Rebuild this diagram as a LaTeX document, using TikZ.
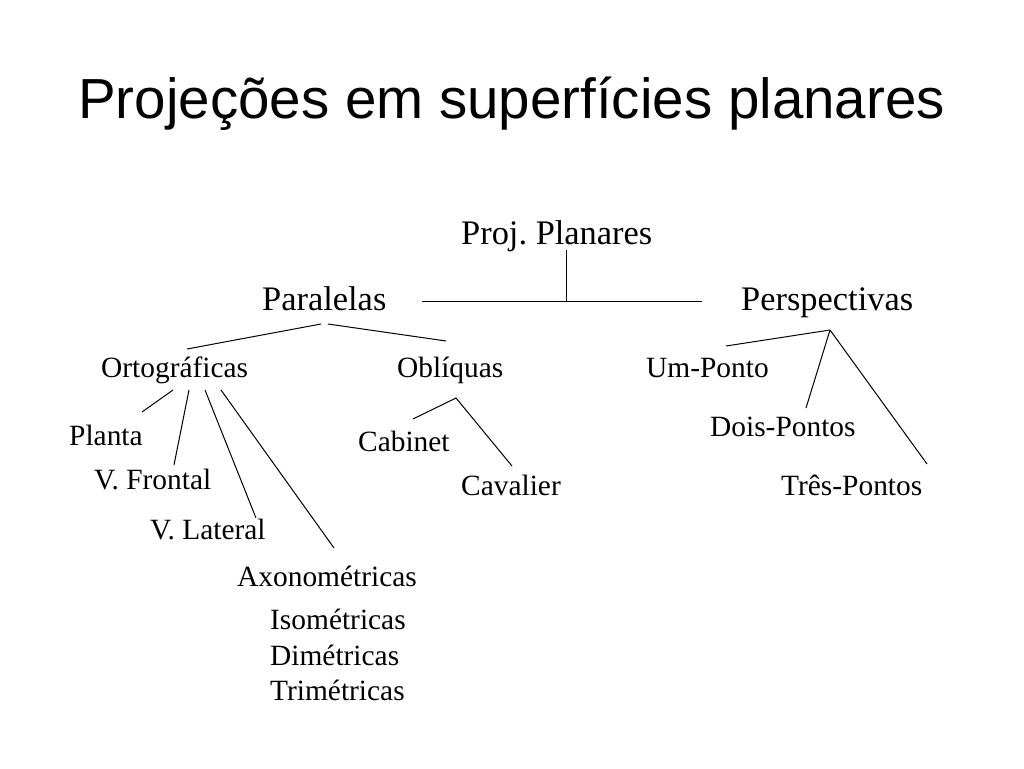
\documentclass[tikz,border=0pt]{standalone}
\usepackage{fontspec}
\setmainfont{Liberation Serif}
\newfontfamily\titlefont{Liberation Sans}
\frenchspacing
\begin{document}
\begin{tikzpicture}[x=1pt,y=-1pt,
  ttl/.style={anchor=base west,inner sep=0pt,font=\titlefont\fontsize{56.5}{60}\selectfont},
  big/.style={anchor=base west,inner sep=0pt,font=\fontsize{34.4}{38}\selectfont},
  lbl/.style={anchor=base west,inner sep=0pt,font=\fontsize{29.4}{32}\selectfont},
  ln/.style={line width=1pt,black}]
\useasboundingbox[fill=white] (0,0) rectangle (1024,768);

\node[ttl] (title) at (78,118) {Projeções em superfícies planares};

\node[big] (root) at (461,244) {Proj.\ Planares};
\node[big] (par) at (262,310) {Paralelas};
\node[big] (per) at (741,310) {Perspectivas};

\node[lbl] (orto) at (101,377) {Ortográficas};
\node[lbl] (obl) at (397,377) {Oblíquas};
\node[lbl] (um) at (646,377) {Um-Ponto};
\node[lbl] (dois) at (710,436) {Dois-Pontos};
\node[lbl] (tres) at (781,495) {Três-Pontos};

\node[lbl] (planta) at (69,445) {Planta};
\node[lbl] (vfront) at (94,489) {V.\ Frontal};
\node[lbl] (vlat) at (150,539) {V.\ Lateral};
\node[lbl] (axo) at (237,586) {Axonométricas};
\node[lbl] (iso) at (270,629) {Isométricas};
\node[lbl] (dim) at (270,665) {Dimétricas};
\node[lbl] (tri) at (270,700) {Trimétricas};

\node[lbl] (cab) at (358,451) {Cabinet};
\node[lbl] (cav) at (461,495) {Cavalier};

% coordinates
\coordinate (rootB) at (566,250);
\coordinate (hmid) at (566,301);
\coordinate (hL) at (422,301);
\coordinate (hR) at (702,301);

\coordinate (parL) at (321,324);
\coordinate (parR) at (328,324);
\coordinate (ortoT) at (187,349);
\coordinate (oblT) at (446,341);

\coordinate (o1) at (173,390);
\coordinate (o2) at (189,390);
\coordinate (o3) at (205,390);
\coordinate (o4) at (221,390);
\coordinate (plantaT) at (142,412);
\coordinate (vfrontT) at (174,465);
\coordinate (vlatT) at (256,518);
\coordinate (axoT) at (334,548);

\coordinate (oblApex) at (456,398);
\coordinate (cabT) at (413,419);
\coordinate (cavT) at (512,466);

\coordinate (perApex) at (830,330);
\coordinate (umT) at (726,346);
\coordinate (doisT) at (806,408);
\coordinate (tresT) at (927,464);

\draw[ln] (rootB) -- (hmid);
\draw[ln] (hL) -- (hR);
\draw[ln] (parL) -- (ortoT);
\draw[ln] (parR) -- (oblT);
\draw[ln] (o1) -- (plantaT);
\draw[ln] (o2) -- (vfrontT);
\draw[ln] (o3) -- (vlatT);
\draw[ln] (o4) -- (axoT);
\draw[ln] (cabT) -- (oblApex) -- (cavT);
\draw[ln] (umT) -- (perApex);
\draw[ln] (perApex) -- (doisT);
\draw[ln] (perApex) -- (tresT);
\end{tikzpicture}
\end{document}
